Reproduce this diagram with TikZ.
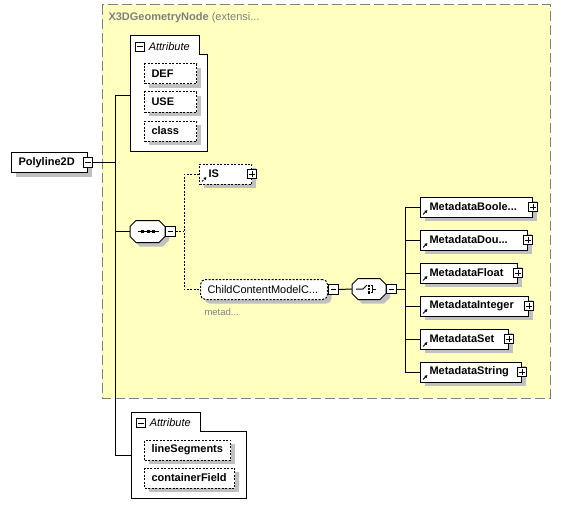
\documentclass[tikz,border=0pt]{standalone}
\usepackage{fontspec}
\setmainfont{Liberation Sans}
\usepackage{tikz}
\usetikzlibrary{positioning,calc,shadows,arrows.meta}

\definecolor{groupyellow}{RGB}{255,255,192}
\definecolor{shadowgray}{RGB}{192,192,192}
\definecolor{framegray}{RGB}{128,128,128}

\tikzset{
  shadowed/.style={drop shadow={shadow xshift=4pt, shadow yshift=-4pt, fill=shadowgray, opacity=1}},
  elem/.style={draw, fill=white, shadowed, anchor=west, minimum height=20pt, inner xsep=7pt, inner ysep=0pt, align=left, font=\bfseries\fontsize{11}{12}\selectfont},
  opt/.style={elem, dash pattern=on 2pt off 1.5pt},
  minusbox/.style={draw, fill=white, minimum size=9.5pt, inner sep=0pt, path picture={\draw ([xshift=2pt]path picture bounding box.west) -- ([xshift=-2pt]path picture bounding box.east);}},
  plusbox/.style={draw, fill=white, minimum size=9.5pt, inner sep=0pt, path picture={\draw ([xshift=2pt]path picture bounding box.west) -- ([xshift=-2pt]path picture bounding box.east); \draw ([yshift=2pt]path picture bounding box.south) -- ([yshift=-2pt]path picture bounding box.north);}},
  refmark/.style={inner xsep=9pt, path picture={\draw[line width=1pt, -{Latex[length=3pt,width=3.5pt]}] ([shift={(2.5pt,2.5pt)}]path picture bounding box.south west) -- ++(4.5pt,4.5pt);}},
  compositor/.style={rectangle, anchor=west, inner sep=0pt},
  attrframe/.style={draw, fill=white},
  wire/.style={line width=1pt},
  dwire/.style={line width=1pt, dash pattern=on 2pt off 1.5pt},
}
% octagonal frame round a compositor node
\newcommand{\compframe}[1]{\draw[fill=white, shadowed] ($(#1.north west)+(6,0)$) -- ($(#1.north east)+(-6,0)$) -- ($(#1.north east)+(0,6)$) -- ($(#1.south east)+(0,-6)$) -- ($(#1.south east)+(-6,0)$) -- ($(#1.south west)+(6,0)$) -- ($(#1.south west)+(0,-6)$) -- ($(#1.north west)+(0,6)$) -- cycle;}

\begin{document}
\begin{tikzpicture}[x=1pt,y=-1pt, line width=1pt]
\useasboundingbox (0,0) rectangle (561,516);

% inherited content of the base type
\draw[framegray, fill=groupyellow, dash pattern=on 10pt off 4pt] (102,5) rectangle (550,398);
\node[anchor=west, inner sep=0pt, text=framegray, font=\fontsize{11}{12}\selectfont] (basetitle) at (108,18) {\textbf{X3DGeometryNode} (extensi...};

% first attribute group
\draw[attrframe] (130,36) -- (199,36) -- (199,55) -- (207,55) -- (207,151) -- (130,151) -- cycle;
\node[minusbox] (attAm) at (140,47) {};
\node[right=1pt of attAm, inner sep=2pt, font=\itshape\fontsize{11}{12}\selectfont] (attA) {Attribute};
\coordinate (attAin) at (130,96);
\node[opt, text width=38pt] (def) at (144,74) {DEF};
\node[opt, text width=38pt] (use) at (144,102) {USE};
\node[opt, text width=38pt] (cls) at (144,131) {class};

% the element itself
\node[elem, text width=62pt] (p2d) at (11,162.5) {Polyline2D};
\node[minusbox] (p2dm) at (p2d.east) {};

\coordinate (trunkT) at (115,96);
\coordinate (trunkB) at (115,455);
\draw[wire] (p2dm.east) -- (p2dm.east -| trunkT);
\draw[wire] (trunkT) -- (trunkB);
\draw[wire] (trunkT) -- (attAin);

% sequence
\node[compositor, minimum width=34pt, minimum height=21pt] (seq) at (130,231.5) {};
\compframe{seq}
\node[minusbox, anchor=west] (seqm) at (seq.east) {};
\draw[wire] (seq.west -| trunkT) -- (seq.west);
\draw[line width=1pt] ($(seq.center)+(-10,0)$) -- ($(seq.center)+(11,0)$);
\fill ($(seq.center)+(-6.5,-1.5)$) rectangle ++(3,3);
\fill ($(seq.center)+(-1,-1.5)$) rectangle ++(3,3);
\fill ($(seq.center)+(4.5,-1.5)$) rectangle ++(3,3);

\node[opt, refmark, text width=34pt] (is) at (199,174) {IS};
\node[plusbox] (ism) at (is.east) {};

\node[opt, rounded corners=5pt, text width=113pt, font=\fontsize{11}{12}\selectfont] (ccm) at (200,289.5) {ChildContentModelC...};
\node[minusbox, anchor=west] (ccmm) at (ccm.east) {};
\node[anchor=west, inner sep=0pt, text=framegray, font=\fontsize{9.5}{11}\selectfont] (ccmnote) at (204,312) {metad...};

\coordinate (seqfork) at (184,231.5);
\draw[dwire] (seqm.east) -- (seqfork);
\draw[dwire] (is.west) -| (seqfork) |- (ccm.west);

% choice
\node[compositor, minimum width=33pt, minimum height=20pt] (choice) at (352,289) {};
\compframe{choice}
\node[minusbox, anchor=west] (choicem) at (choice.east) {};
\draw[wire] (ccmm.east) -- (choice.west);
\draw[line width=1pt] ($(choice.center)+(-13,0)$) -- ($(choice.center)+(-6,0)$) -- ($(choice.center)+(-2,-4)$);
\fill ($(choice.center)+(-1.5,-4.5)$) rectangle ++(2.5,2.5);
\fill ($(choice.center)+(-1.5,-1.25)$) rectangle ++(2.5,2.5);
\fill ($(choice.center)+(-1.5,2)$) rectangle ++(2.5,2.5);
\draw[line width=0.8pt] ($(choice.center)+(1.5,-3.5)$) -- ($(choice.center)+(3.5,-3.5)$) -- ($(choice.center)+(3.5,3.5)$) -- ($(choice.center)+(1.5,3.5)$);
\draw[line width=0.8pt] ($(choice.center)+(3.5,0)$) -- ($(choice.center)+(7,0)$);

\node[elem, refmark, text width=94pt] (mbool) at (420,207) {MetadataBoole...};
\node[plusbox] (mboolp) at (mbool.east) {};
\node[elem, refmark, text width=89pt] (mdou) at (420,240) {MetadataDou...};
\node[plusbox] (mdoup) at (mdou.east) {};
\node[elem, refmark, text width=79pt] (mflt) at (420,273) {MetadataFloat};
\node[plusbox] (mfltp) at (mflt.east) {};
\node[elem, refmark, text width=90pt] (mint) at (420,306) {MetadataInteger};
\node[plusbox] (mintp) at (mint.east) {};
\node[elem, refmark, text width=70pt] (mset) at (420,339) {MetadataSet};
\node[plusbox] (msetp) at (mset.east) {};
\node[elem, refmark, text width=83pt] (mstr) at (420,372) {MetadataString};
\node[plusbox] (mstrp) at (mstr.east) {};

\coordinate (choicefork) at (405,289);
\draw[wire] (choicem.east) -- (choicefork);
\draw[wire] (choicefork) |- (mbool.west);
\draw[wire] (choicefork) |- (mdou.west);
\draw[wire] (choicefork) |- (mflt.west);
\draw[wire] (choicefork) |- (mint.west);
\draw[wire] (choicefork) |- (mset.west);
\draw[wire] (choicefork) |- (mstr.west);

% second attribute group
\draw[attrframe] (131,412) -- (200,412) -- (200,431) -- (246,431) -- (246,498) -- (131,498) -- cycle;
\node[minusbox] (attBm) at (141,423) {};
\node[right=1pt of attBm, inner sep=2pt, font=\itshape\fontsize{11}{12}\selectfont] (attB) {Attribute};
\coordinate (attBin) at (131,455);
\draw[wire] (trunkB) -- (attBin);
\node[opt, text width=72pt] (lseg) at (144,450) {lineSegments};
\node[opt, text width=76pt] (cfld) at (144,478) {containerField};
\end{tikzpicture}
\end{document}
